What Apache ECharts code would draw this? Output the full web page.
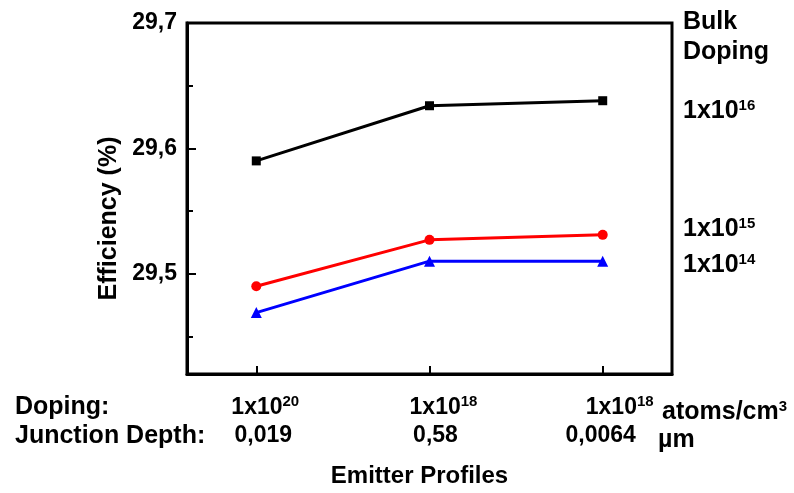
<!DOCTYPE html>
<html><head><meta charset="utf-8">
<script src="https://cdn.jsdelivr.net/npm/echarts@6/dist/echarts.min.js"></script>
<style>html,body{margin:0;padding:0;background:#fff}#c{width:794px;height:493px}</style>
</head><body><div id="c"></div>
<script>
// ---- data ----
const profiles = [0, 1, 2];
const emitterDopingBase = ['1x10', '1x10', '1x10'];
const emitterDopingExp = ['20', '18', '18'];
const junctionDepth = ['0,019', '0,58', '0,0064'];
const bulkDopingExp = ['16', '15', '14'];
const eff1e16 = [29.590, 29.634, 29.638];
const eff1e15 = [29.490, 29.527, 29.531];
const eff1e14 = [29.469, 29.510, 29.510];
const yMajorTicks = [29.5, 29.6, 29.7];
const yMinorTicks = [29.45, 29.55, 29.65];

// ---- layout/style ----
const FF = '"Liberation Sans", Arial, sans-serif';
const dopShift = [9, 14, 17];   // px nudge of each doping label
const depShift = [7, 6, -2];    // px nudge of each junction-depth label

const rich = {
  d: { fontFamily: FF, fontWeight: 'bold', fontSize: 23, lineHeight: 28, color: '#000', verticalAlign: 'middle' },
  s: { fontFamily: FF, fontWeight: 'bold', fontSize: 15, lineHeight: 15, color: '#000', verticalAlign: 'top', padding: [0, 0, 0, 0] },
  j: { fontFamily: FF, fontWeight: 'bold', fontSize: 23, lineHeight: 28, color: '#000', verticalAlign: 'middle' }
};
for (let n = 0; n <= 40; n++) rich['p' + n] = { width: n, fontSize: 23, lineHeight: 28 };

function pad(n) { n = Math.max(0, Math.round(n)); return n > 0 ? '{p' + n + '| }' : ''; }

const chart = echarts.init(document.getElementById('c'), null, { renderer: 'canvas' });

function mk(vals) { return profiles.map((x, i) => [x, vals[i]]); }

function rich2(fs) {
  return {
    b: { fontFamily: FF, fontWeight: 'bold', fontSize: fs, lineHeight: 26, color: '#000', verticalAlign: 'middle' },
    s: { fontFamily: FF, fontWeight: 'bold', fontSize: 15, lineHeight: 15, color: '#000', verticalAlign: 'top', padding: [0, 0, 0, 0] }
  };
}

const option = {
  animation: false,
  backgroundColor: '#fff',
  grid: { left: 187, right: 122, top: 23, bottom: 112, show: true, borderColor: '#000', borderWidth: 3, containLabel: false },
  xAxis: {
    type: 'value', min: -0.4, max: 2.4,
    name: 'Emitter Profiles', nameLocation: 'middle', nameGap: 90,
    nameTextStyle: { fontFamily: FF, fontWeight: 'bold', fontSize: 24, color: '#000', padding: [0, 20, 0, 0] },
    splitLine: { show: false },
    axisLine: { onZero: false, lineStyle: { color: '#000', width: 3 } },
    axisTick: { inside: true, length: 8, lineStyle: { color: '#000', width: 2 }, customValues: profiles },
    axisLabel: {
      customValues: profiles, margin: 20, align: 'center',
      formatter: function (v) {
        const i = Math.round(v);
        return pad(2 * dopShift[i]) + '{d|' + emitterDopingBase[i] + '}{s|' + emitterDopingExp[i] + '}\n' +
               (depShift[i] >= 0 ? pad(2 * depShift[i]) + '{j|' + junctionDepth[i] + '}' : '{j|' + junctionDepth[i] + '}' + pad(-2 * depShift[i]));
      },
      rich: rich
    }
  },
  yAxis: [{
    type: 'value', min: 29.42, max: 29.7,
    name: 'Efficiency (%)', nameLocation: 'middle', nameGap: 64, nameRotate: 90,
    nameTextStyle: { fontFamily: FF, fontWeight: 'bold', fontSize: 25, color: '#000', padding: [0, 40, 0, 0] },
    splitLine: { show: false },
    axisLine: { onZero: false, lineStyle: { color: '#000', width: 3 } },
    axisTick: { inside: true, length: 9, lineStyle: { color: '#000', width: 2 }, customValues: yMajorTicks },
    axisLabel: {
      customValues: yMajorTicks, margin: 10,
      fontFamily: FF, fontWeight: 'bold', fontSize: 23, color: '#000',
      formatter: v => v.toFixed(1).replace('.', ',')
    }
  }, {
    type: 'value', min: 29.42, max: 29.7, position: 'left',
    splitLine: { show: false }, axisLine: { show: false, onZero: false }, axisLabel: { show: false },
    axisTick: { inside: true, length: 6, lineStyle: { color: '#000', width: 2 }, customValues: yMinorTicks }
  }],
  series: [
    { type: 'line', data: mk(eff1e16), symbol: 'rect', symbolSize: 9, lineStyle: { color: '#000', width: 3 }, itemStyle: { color: '#000' } },
    { type: 'line', data: mk(eff1e15), symbol: 'circle', symbolSize: 10, lineStyle: { color: '#ff0000', width: 3 }, itemStyle: { color: '#ff0000' } },
    { type: 'line', data: mk(eff1e14), symbol: 'triangle', symbolSize: 11, lineStyle: { color: '#0000ff', width: 3 }, itemStyle: { color: '#0000ff' } }
  ],
  graphic: [
    { type: 'text', left: 683, top: 7, style: { text: 'Bulk\nDoping', font: 'bold 25px ' + FF, lineHeight: 30, fill: '#000' } },
    { type: 'text', left: 683, top: 98, style: { text: '{b|1x10}{s|' + bulkDopingExp[0] + '}', rich: rich2(25) } },
    { type: 'text', left: 683, top: 216, style: { text: '{b|1x10}{s|' + bulkDopingExp[1] + '}', rich: rich2(25) } },
    { type: 'text', left: 683, top: 252, style: { text: '{b|1x10}{s|' + bulkDopingExp[2] + '}', rich: rich2(25) } },
    { type: 'text', left: 662, top: 399, style: { text: '{b|atoms/cm}{s|3}', rich: rich2(25) } },
    { type: 'text', left: 658, top: 426, style: { text: 'µm', font: 'bold 25px ' + FF, lineHeight: 29, fill: '#000' } },
    { type: 'text', left: 15, top: 393, style: { text: 'Doping:', font: 'bold 25px ' + FF, lineHeight: 29, fill: '#000' } },
    { type: 'text', left: 15, top: 422, style: { text: 'Junction Depth:', font: 'bold 25px ' + FF, lineHeight: 29, fill: '#000' } }
  ]
};
chart.setOption(option);
</script></body></html>
